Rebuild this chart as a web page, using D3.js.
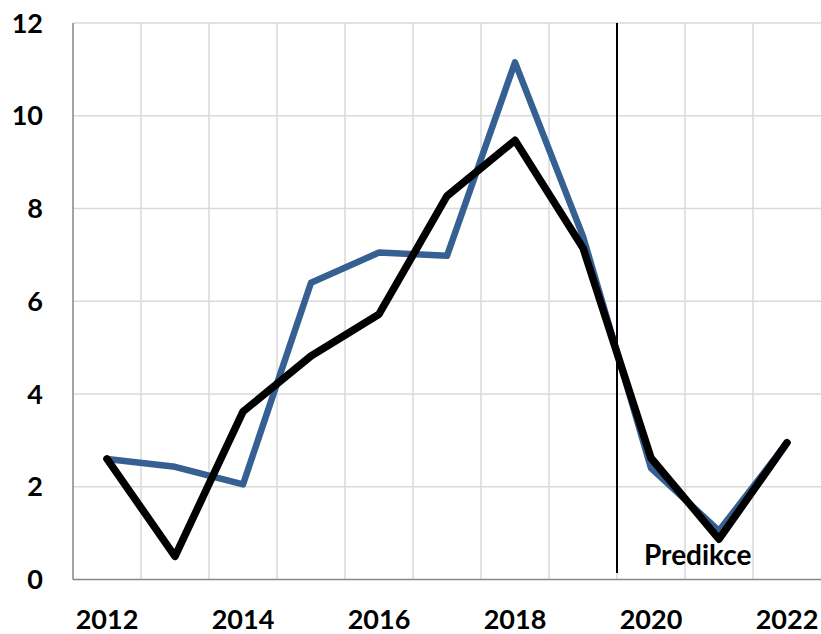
<!DOCTYPE html>
<html>
<head>
<meta charset="utf-8">
<script src="https://cdn.jsdelivr.net/npm/d3@7"></script>
<style>
  html, body { margin: 0; padding: 0; background: #fff; }
  svg { display: block; }
  text { font-family: Lato, "Open Sans", sans-serif; font-weight: bold; fill: #000; }
</style>
</head>
<body>
<svg id="chart" width="821" height="634"></svg>
<script>
// data
var years = [2012, 2013, 2014, 2015, 2016, 2017, 2018, 2019, 2020, 2021, 2022];
var actual = [2.6, 2.43, 2.05, 6.4, 7.05, 6.98, 11.15, 7.4, 2.4, 1.05, 2.95];
var model = [2.6, 0.5, 3.62, 4.82, 5.72, 8.27, 9.47, 7.15, 2.62, 0.87, 2.95];
var yTicks = [0, 2, 4, 6, 8, 10, 12];
var xLabels = [2012, 2014, 2016, 2018, 2020, 2022];
var splitAfter = 2019;
var splitLabel = "Predikce";

var svg = d3.select("#chart");
// note: "top" is taken by window.top, so plotTop etc.
var plotLeft = 73, plotRight = 821, plotTop = 23, plotBottom = 579.5;

var x = d3.scaleBand().domain(years).range([plotLeft, plotRight]);
var y = d3.scaleLinear().domain([0, 12]).range([plotBottom, plotTop]);
var cx = function (d) { return x(d) + x.bandwidth() / 2; };

// horizontal grid
svg.append("g")
  .selectAll("line")
  .data(yTicks.filter(function (t) { return t > 0; }))
  .enter().append("line")
  .attr("x1", plotLeft).attr("x2", plotRight)
  .attr("y1", function (d) { return y(d); })
  .attr("y2", function (d) { return y(d); })
  .attr("stroke", "#d9d9d9").attr("stroke-width", 1.5);

// vertical grid at category boundaries
svg.append("g")
  .selectAll("line")
  .data(years.slice(1))
  .enter().append("line")
  .attr("x1", function (d) { return x(d); })
  .attr("x2", function (d) { return x(d); })
  .attr("y1", plotTop).attr("y2", plotBottom)
  .attr("stroke", "#d9d9d9").attr("stroke-width", 1.5);

// axes lines
svg.append("line")
  .attr("x1", plotLeft).attr("x2", plotLeft).attr("y1", plotTop).attr("y2", plotBottom)
  .attr("stroke", "#868686").attr("stroke-width", 1.5);
svg.append("line")
  .attr("x1", plotLeft).attr("x2", plotRight).attr("y1", plotBottom).attr("y2", plotBottom)
  .attr("stroke", "#868686").attr("stroke-width", 1.5);

// y labels
svg.append("g")
  .selectAll("text")
  .data(yTicks)
  .enter().append("text")
  .attr("x", 43)
  .attr("y", function (d) { return y(d); })
  .attr("dy", "0.36em")
  .attr("text-anchor", "end")
  .attr("font-size", 27)
  .text(function (d) { return d; });

// x labels
svg.append("g")
  .selectAll("text")
  .data(xLabels)
  .enter().append("text")
  .attr("x", function (d) { return cx(d); })
  .attr("y", 629)
  .attr("text-anchor", "middle")
  .attr("font-size", 27)
  .text(function (d) { return d; });

// prediction split line
var splitX = x(splitAfter) + x.bandwidth();
svg.append("line")
  .attr("x1", splitX).attr("x2", splitX)
  .attr("y1", plotTop).attr("y2", 573)
  .attr("stroke", "#000").attr("stroke-width", 2);

var line = d3.line()
  .x(function (d, i) { return cx(years[i]); })
  .y(function (d) { return y(d); });

svg.append("path")
  .datum(actual)
  .attr("d", line)
  .attr("fill", "none")
  .attr("stroke", "#376092")
  .attr("stroke-width", 6.5)
  .attr("stroke-linejoin", "round")
  .attr("stroke-linecap", "round");

svg.append("path")
  .datum(model)
  .attr("d", line)
  .attr("fill", "none")
  .attr("stroke", "#000")
  .attr("stroke-width", 7.5)
  .attr("stroke-linejoin", "round")
  .attr("stroke-linecap", "round");

svg.append("text")
  .attr("x", 644)
  .attr("y", 565)
  .attr("font-size", 28)
  .text(splitLabel);
</script>
</body>
</html>
